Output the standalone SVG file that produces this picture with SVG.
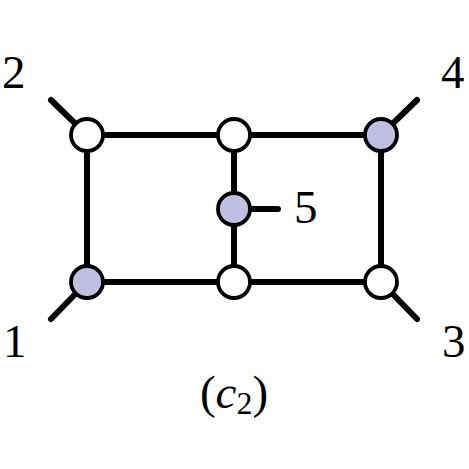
<svg xmlns="http://www.w3.org/2000/svg" width="469" height="469" viewBox="0 0 469 469">
<style>
.e{stroke:#000;stroke-width:6;stroke-linecap:round;fill:none}
.n{stroke:#000;stroke-width:3.8}
.w{fill:#fff}
.b{fill:#bfbfe4}
.t{font-family:"Liberation Serif",serif;font-size:47px;fill:#000}
</style>
<rect width="469" height="469" fill="#fff"/>
<g id="connectors">
<line class="e" x1="87" y1="135" x2="381" y2="135"/>
<line class="e" x1="87" y1="282" x2="381" y2="282"/>
<line class="e" x1="87" y1="135" x2="87" y2="282"/>
<line class="e" x1="234" y1="135" x2="234" y2="282"/>
<line class="e" x1="381" y1="135" x2="381" y2="282"/>
<line class="e" x1="234" y1="209" x2="278" y2="209"/>
<line class="e" x1="87" y1="135" x2="51" y2="100"/>
<line class="e" x1="87" y1="282" x2="51" y2="319"/>
<line class="e" x1="381" y1="135" x2="417" y2="100"/>
<line class="e" x1="381" y1="282" x2="417" y2="319"/>
</g>
<g id="node-tl"><circle class="n w" cx="87" cy="135" r="16"/></g>
<g id="node-tm"><circle class="n w" cx="234" cy="135" r="16"/></g>
<g id="node-tr"><circle class="n b" cx="381" cy="135" r="16"/></g>
<g id="node-m"><circle class="n b" cx="234" cy="209" r="16"/></g>
<g id="node-bl"><circle class="n b" cx="87" cy="282" r="16"/></g>
<g id="node-bm"><circle class="n w" cx="234" cy="282" r="16"/></g>
<g id="node-br"><circle class="n w" cx="381" cy="282" r="16"/></g>
<g id="labels">
<text class="t" x="2" y="88">2</text>
<text class="t" x="441" y="88">4</text>
<text class="t" x="3" y="357">1</text>
<text class="t" x="442" y="357">3</text>
<text class="t" x="294" y="223">5</text>
<text class="t" x="234" y="408" font-size="52" text-anchor="middle">(<tspan font-style="italic">c</tspan><tspan font-size="32" dy="6">2</tspan><tspan dy="-6">)</tspan></text>
</g>
</svg>
